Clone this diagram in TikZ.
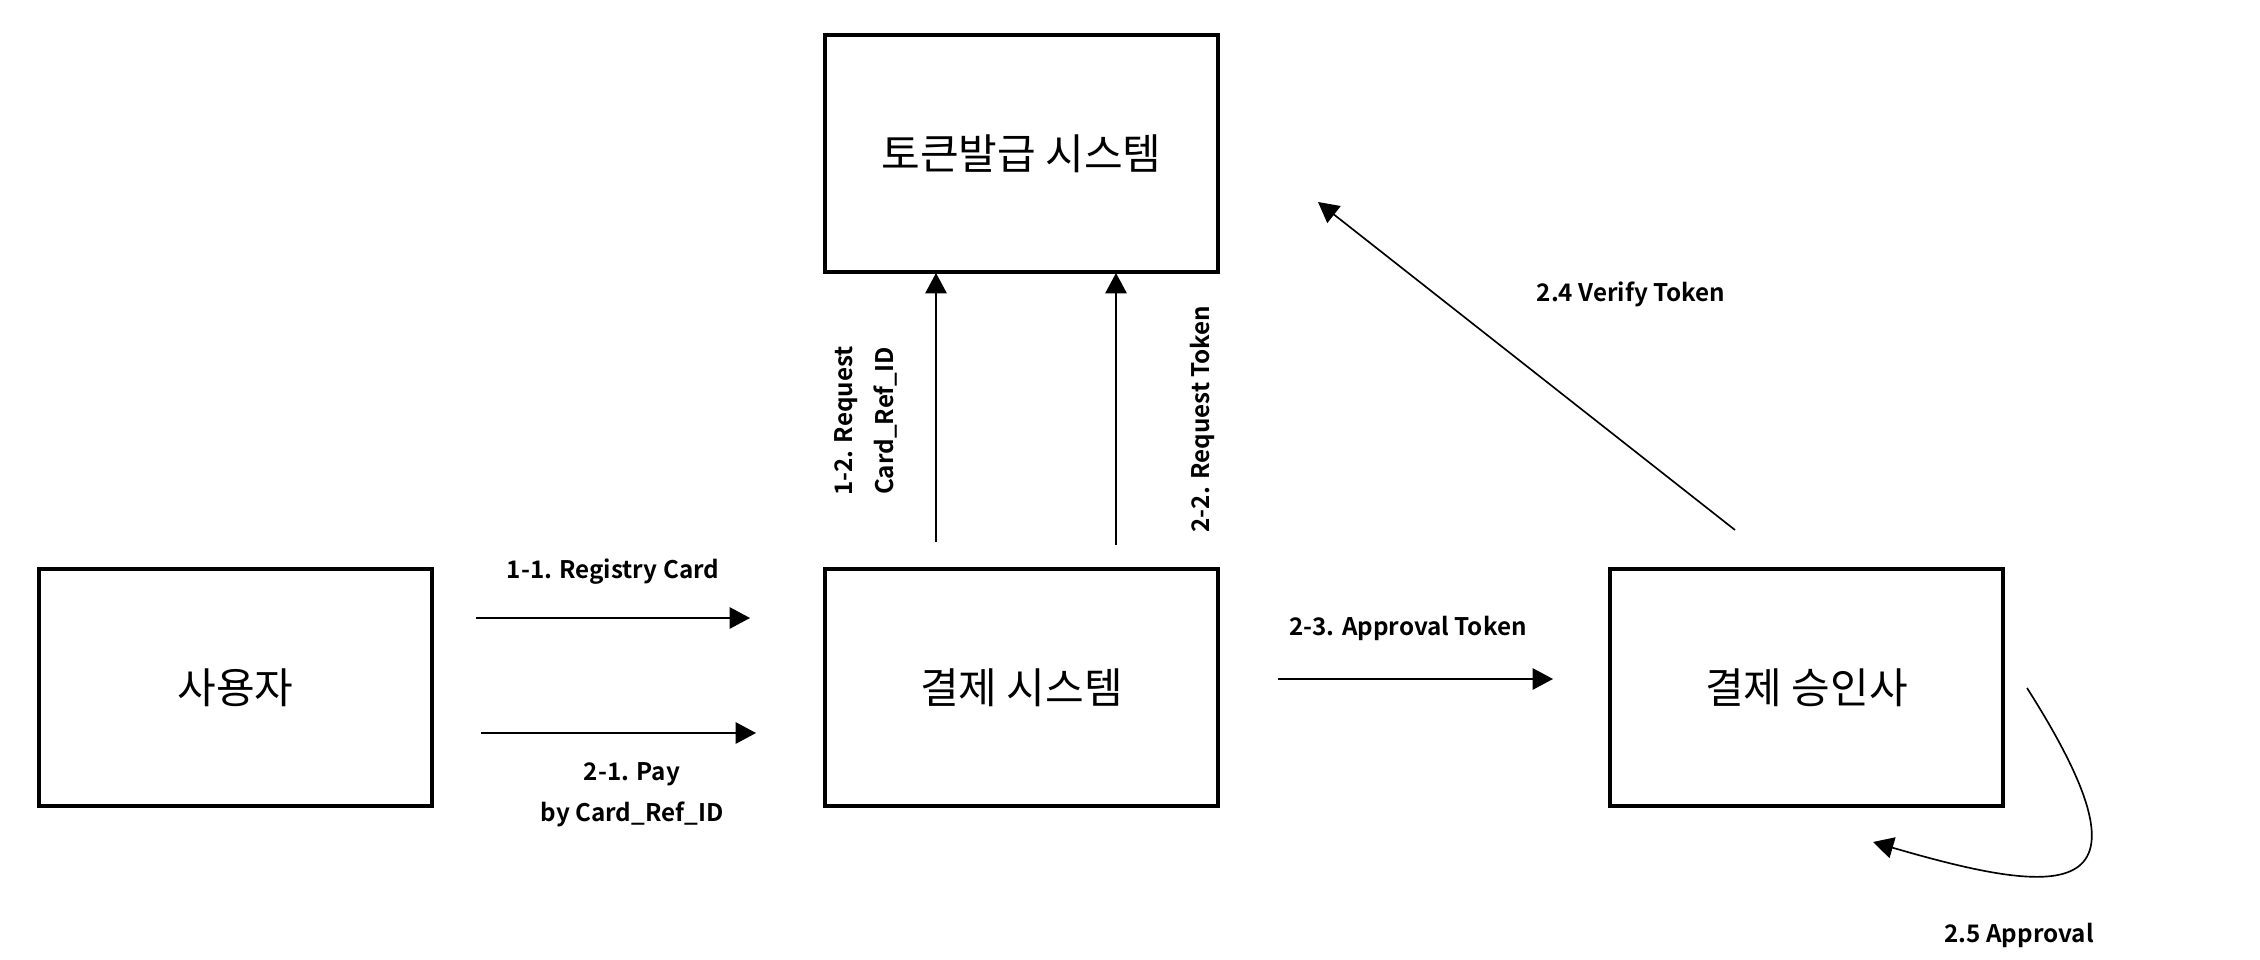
\documentclass[tikz,border=0pt]{standalone}
\usepackage{fontspec}
\setmainfont{Noto Sans CJK KR}[BoldFont={* Bold}]
\usetikzlibrary{arrows.meta}

\begin{document}
\begin{tikzpicture}[x=0.0138cm,y=-0.0138cm,
  box/.style={draw,line width=1.3pt,minimum width=5.42cm,minimum height=3.27cm,
    font=\fontsize{16.5}{19}\selectfont},
  lbl/.style={font=\fontsize{9.5}{16}\selectfont\bfseries,align=center},
  arr/.style={-{Triangle[length=8pt,width=8.4pt]},line width=0.65pt}]

\useasboundingbox (0,0) rectangle (2260,960);

\node[box] (user) at (235.5,687.5) {사용자};
\node[box] (pay) at (1021.5,687.5) {결제 시스템};
\node[box] (token) at (1021.5,153.5) {토큰발급 시스템};
\node[box] (appr) at (1806.5,687.5) {결제 승인사};

\coordinate (r1) at (476,618);
\coordinate (r2) at (750,618);
\coordinate (p1) at (481,733);
\coordinate (p2) at (756,733);
\coordinate (q1) at (936,542);
\coordinate (q2) at (936,273);
\coordinate (t1) at (1116,545);
\coordinate (t2) at (1116,273);
\coordinate (a1) at (1278,679);
\coordinate (a2) at (1553,679);
\coordinate (v1) at (1735,530);
\coordinate (v2) at (1318,202);
\coordinate (s1) at (2027,688);
\coordinate (s2) at (1873,842);

\draw[arr] (r1) -- (r2);
\draw[arr] (p1) -- (p2);
\draw[arr] (q1) -- (q2);
\draw[arr] (t1) -- (t2);
\draw[arr] (a1) -- (a2);
\draw[arr] (v1) -- (v2);
\draw[arr] (s1) .. controls (2165,905) and (2065,898) .. (s2);

\node[lbl] (l11) at (613,572) {1-1. Registry Card};
\node[lbl] (l21) at (632,795) {2-1. Pay\\by Card\_Ref\_ID};
\node[lbl,rotate=90] (l12) at (866,421) {1-2. Request\\Card\_Ref\_ID};
\node[lbl,rotate=90] (l22) at (1202,419) {2-2. Request Token};
\node[lbl] (l23) at (1408,628) {2-3. Approval Token};
\node[lbl] (l24) at (1631,294) {2.4 Verify Token};
\node[lbl] (l25) at (2019,935) {2.5 Approval};

\end{tikzpicture}
\end{document}
